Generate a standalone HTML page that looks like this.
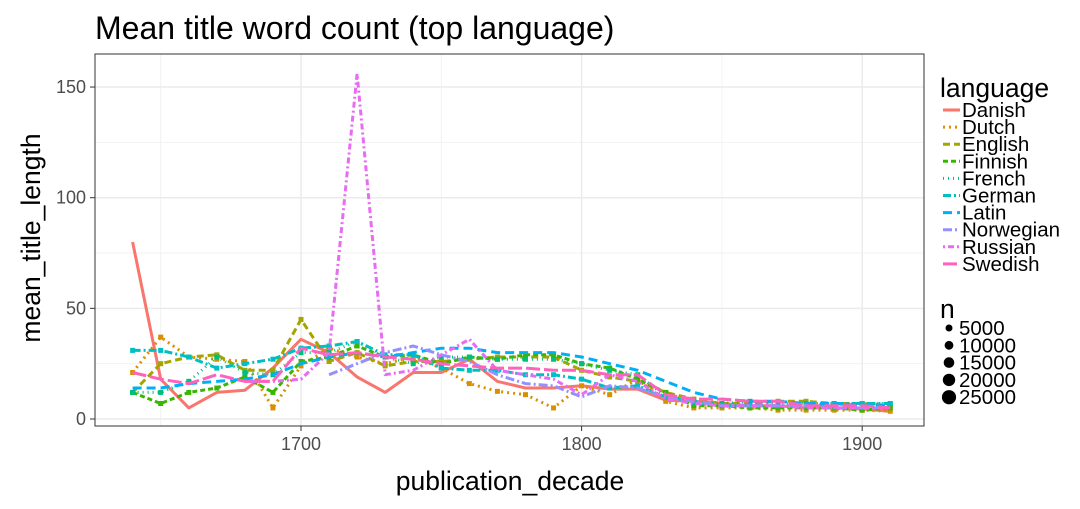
<!DOCTYPE html>
<html><head><meta charset="utf-8"><style>
body{margin:0;background:#fff;font-family:"Liberation Sans",sans-serif}
</style></head><body>
<svg id="c" width="1080" height="504" xmlns="http://www.w3.org/2000/svg" font-family="Liberation Sans, sans-serif">
<text x="95" y="39" font-size="32" fill="#000">Mean title word count (top language)</text>
<rect x="95" y="54" width="829" height="372" fill="#fff"/>
<g id="grid"></g>
<g id="lines"></g>
<rect x="95" y="54" width="829" height="372" fill="none" stroke="#333" stroke-width="1"/>
<g id="axes"></g>
<text x="510" y="490" font-size="26.5" text-anchor="middle">publication_decade</text>
<text transform="translate(40,238) rotate(-90)" font-size="26.5" text-anchor="middle">mean_title_length</text>
<g id="legend"></g>
</svg>
<script>
const decades=[1640,1650,1660,1670,1680,1690,1700,1710,1720,1730,1740,1750,1760,1770,1780,1790,1800,1810,1820,1830,1840,1850,1860,1870,1880,1890,1900,1910];
const languages=["Danish","Dutch","English","Finnish","French","German","Latin","Norwegian","Russian","Swedish"];
const danish=[80,18,5,12,13,23,36,30,19,12,21,21,27,17,14,14,15,13.5,13.5,8.5,8,7,6,6,5,5,4.5,3.5];
const dutch=[21,37,28,27,26,5,24,32,28,25,28,23,16,12.5,11,5,15,11,18,8,5,5,5,4,4,4,4,3.5];
const english=[12,25,28,29,22,22,45,26,30,24,26,26,27,28,28,28,22,19,17,12,9,7,7,8,8,7,7,6];
const finnish=[12,7,12,14,19,12,26,28,33,28,29,25,28,27,29,29,25,23,18,12,6,6,5,5,5,5,4,5];
const french=[12,12,17,28,21,20,30,30,35,28,25,28,28,27,27,27,25,22,20,10,7,7,8,7,7,7,7,7];
const german=[31,31,28,23,25,27,32,33,35,29,29,23,22,22,20,20,18,14,15,10,8,6,6,6,6,7,7,7];
const latin=[14,14,16,17,18,20,25,28,30,28,30,32,32,30,30,30,28,25,22,17,12,9,8,8,7,7,6,6];
const norwegian=[null,null,null,null,null,null,null,20,25,30,33,29,26,20,16,15,10,15,14,10,8,6,6,6,6,5,5,5];
const russian=[null,null,null,null,17,17,18,30,156,20,22,29,36,22,20,18,11,20,17,9,7,6,6,6,5,5,5,5];
const swedish=[21,18,16,20,17,17,32,29,30,28,27,25,24,23,23,22,22,20,20,11,9,9,8,8,6,6,6,5];
const xTicks=[1700,1800,1900];
const yTicks=[0,50,100,150];
const nLabels=["5000","10000","15000","20000","25000"];
const series=[danish,dutch,english,finnish,french,german,latin,norwegian,russian,swedish];
const colors=["#F8766D","#D89000","#A3A500","#39B600","#00BF7D","#00BFC4","#00B0F6","#9590FF","#E76BF3","#FF62BC"];
const dashes=["","2,4","7,4","5,3","1,4","8,3,2,3","9,5","9,3,2,3","2,3,6,3","14,4"];
const NS="http://www.w3.org/2000/svg";
const xs=d=>301+(d-1700)*2.806;
const ys=v=>419-v*2.213;
function mk(t,a,p){const e=document.createElementNS(NS,t);for(const k in a)e.setAttribute(k,a[k]);p.appendChild(e);return e;}
const grid=document.getElementById('grid');
[25,75,125].forEach(v=>{const l=mk('line',{x1:95,x2:924,y1:ys(v),y2:ys(v),stroke:'#f2f2f2','stroke-width':1},grid);});
[1650,1750,1850].forEach(d=>{const l=mk('line',{x1:xs(d),x2:xs(d),y1:54,y2:426,stroke:'#f2f2f2','stroke-width':1},grid);});
const axes=document.getElementById('axes');
yTicks.forEach(v=>{const l=mk('line',{x1:95,x2:924,y1:ys(v),y2:ys(v),stroke:'#ebebeb','stroke-width':1.5},grid);
const t=mk('line',{x1:90,x2:95,y1:ys(v),y2:ys(v),stroke:'#333'},axes);
const tx=mk('text',{x:86,y:ys(v)+6,'font-size':18,fill:'#4d4d4d','text-anchor':'end'},axes);tx.textContent=v;});
xTicks.forEach(d=>{const l=mk('line',{x1:xs(d),x2:xs(d),y1:54,y2:426,stroke:'#ebebeb','stroke-width':1.5},grid);
const t=mk('line',{x1:xs(d),x2:xs(d),y1:426,y2:431,stroke:'#333'},axes);
const tx=mk('text',{x:xs(d),y:450,'font-size':18,fill:'#4d4d4d','text-anchor':'middle'},axes);tx.textContent=d;});
const lines=document.getElementById('lines');
series.forEach((s,i)=>{let p='';s.forEach((v,j)=>{if(v==null)return;p+=(p?'L':'M')+xs(decades[j]).toFixed(1)+','+ys(v).toFixed(1);});
const e=mk('path',{d:p,fill:'none',stroke:colors[i],'stroke-width':3,'stroke-dasharray':dashes[i],'stroke-linejoin':'round'},lines);


if(i>0&&i<6){s.forEach((v,j)=>{if(v==null)return;
const m=mk('rect',{x:xs(decades[j])-2.5,y:ys(v)-2.5,width:5,height:5,fill:colors[i]},lines);

});}});
const lg=document.getElementById('legend');
const lt=mk('text',{x:940,y:97,'font-size':26.5},lg);lt.textContent='language';
languages.forEach((n,i)=>{const y=110+i*17.1;
const k=mk('line',{x1:943,x2:960,y1:y,y2:y,stroke:colors[i],'stroke-width':3,'stroke-dasharray':dashes[i]},lg);
const t=mk('text',{x:962,y:y+7,'font-size':20.5},lg);t.textContent=n;});
const nt=mk('text',{x:940,y:318,'font-size':26.5},lg);nt.textContent='n';
nLabels.forEach((n,i)=>{const y=328+i*17.3;
const c=mk('circle',{cx:949,cy:y,r:3.5+i*0.9,fill:'#000'},lg);
const t=mk('text',{x:959,y:y+7,'font-size':20.5},lg);t.textContent=n;});
</script>
</body></html>
